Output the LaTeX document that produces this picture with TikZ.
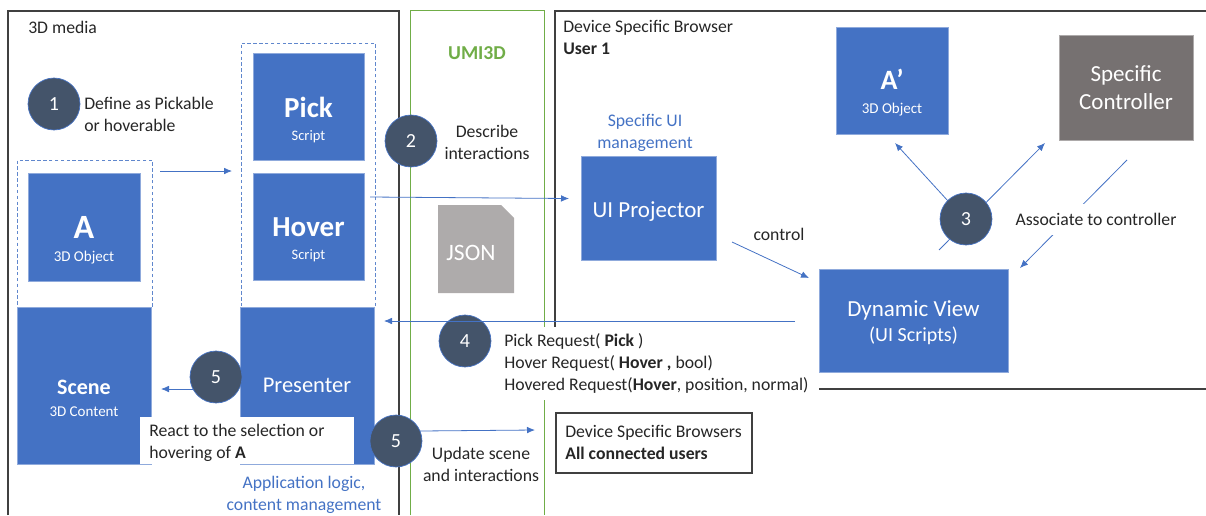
\documentclass[tikz,border=0pt]{standalone}
\usepackage{fontspec}
\setmainfont{Carlito}
\usetikzlibrary{arrows.meta,shapes.misc,shapes.geometric}
\definecolor{cblue}{HTML}{4472C4}
\definecolor{cdark}{HTML}{44546A}
\definecolor{cgreen}{HTML}{70AD47}
\definecolor{cgray}{HTML}{AEABAB}
\definecolor{cctrl}{HTML}{767171}
\definecolor{cframe}{HTML}{404040}
\newdimen\px \px=0.75pt
\newcommand{\fs}[1]{\fontsize{#1\px}{1.2\dimexpr#1\px\relax}\selectfont}
\tikzset{
  box/.style={fill=cblue,draw=cblue!60!white,line width=0.4pt,text=white,align=center,inner sep=0pt},
  badge/.style={circle,fill=cdark,draw=cblue,line width=0.5pt,text=white,minimum size=52\px,inner sep=0pt,font=\fontsize{20\px}{22\px}\selectfont},
  txt/.style={text=black!85,inner sep=0pt,align=left,font=\fontsize{17.7\px}{22\px}\selectfont},
  ctxt/.style={txt,align=center},
  bluetxt/.style={ctxt,text=cblue},
  frame/.style={draw=cframe,line width=0.9pt},
  gframe/.style={draw=cgreen,line width=0.6pt},
  dashbox/.style={draw=cblue!85!white,line width=0.6pt,dash pattern=on 2.6pt off 1.8pt,fill=white},
  conn/.style={draw=cblue,line width=0.6pt,-{Latex[length=6pt,width=5pt]}},
}
\begin{document}
\begin{tikzpicture}[x=0.75pt,y=-0.75pt]
\useasboundingbox (0,0) rectangle (1206,515);
% frames
\draw[frame] (8,515) -- (8,11) -- (399,11) -- (399,515);
\draw[gframe] (410,515) -- (410,10) -- (544,10) -- (544,515);
\draw[frame] (555,327) -- (555,11) -- (1206,11);
\draw[frame] (819,389) -- (1206,389);
% free connector ends
\coordinate (aout) at (160,171);
\coordinate (pin) at (232,171);
\coordinate (hout) at (370,197);
\coordinate (uin) at (569,198.5);
\coordinate (uout) at (732,242);
\coordinate (dinl) at (809,278);
\coordinate (dout) at (795,321);
\coordinate (pres) at (384,321);
\coordinate (sc5) at (200,389);
\coordinate (scin) at (161,389);
\coordinate (up5) at (420,431);
\coordinate (upin) at (535,430);
\coordinate (t3a) at (948,201);
\coordinate (apin) at (895,143);
\coordinate (t3b) at (939,250);
\coordinate (ctin) at (1045,143);
\coordinate (ctout) at (1127,160);
\coordinate (dinr) at (1020,268);
% dashed groups
\node[dashbox,minimum width=134.5\px,minimum height=147\px] (dashA) at (85,233.5) {};
\node[dashbox,minimum width=134\px,minimum height=264\px] (dashP) at (308,175) {};
% blocks
\node[box,minimum width=112\px,minimum height=108\px] (A) at (84,227) {\rule{0pt}{48\px}{\fs{34}\bfseries A}\\[5pt]{\fs{15}3D Object}};
\node[box,minimum width=111\px,minimum height=107\px] (pick) at (308.5,106.5) {\rule{0pt}{47\px}{\fs{29}\bfseries Pick}\\[5.75pt]{\fs{14.5}Script}};
\node[box,minimum width=111\px,minimum height=107\px] (hover) at (308.5,226.5) {\rule{0pt}{45\px}{\fs{29}\bfseries Hover}\\[5.75pt]{\fs{14.5}Script}};
\node[box,minimum width=134\px,minimum height=157\px] (scene) at (84,385.5) {\rule{0pt}{40\px}{\fs{22}\bfseries Scene}\\[4pt]{\fs{15}3D Content}};
\node[box,minimum width=134\px,minimum height=157\px] (presenter) at (307,385.5) {{\fs{22.5}Presenter}};
\node[box,minimum width=135\px,minimum height=104\px] (ui) at (648.5,208) {\rule{0pt}{23\px}{\fs{23}UI Projector}};
\node[box,minimum width=112\px,minimum height=107\px] (Ap) at (892,80.5) {\rule{0pt}{45\px}{\fs{28}\bfseries A’}\\[5.75pt]{\fs{15}3D Object}};
\node[box,fill=cctrl,draw=cctrl!60!white,minimum width=134\px,minimum height=105\px] (ctrl) at (1126,87.5) {\fs{23}Specific\\[5pt]\fs{23}Controller};
\node[box,minimum width=189\px,minimum height=103\px] (dyn) at (913.5,320.5) {\rule{0pt}{21\px}{\fs{23}Dynamic View}\\[4pt]{\fs{20}(UI Scripts)}};
\fill[cgray] (438,205) -- (501,205) -- (514,218) -- (514,293) -- (438,293) -- cycle;
\node[text=white,inner sep=0pt,font=\fontsize{23.5\px}{26\px}\selectfont] (json) at (471,253) {JSON};
% arrows
\draw[conn] (aout) -- (pin);
\draw[conn] (hout) -- (uin);
\draw[conn] (uout) -- (dinl);
\draw[conn] (t3a) -- (apin);
\draw[conn] (t3b) -- (ctin);
\draw[conn] (ctout) -- (dinr);
\draw[conn] (sc5) -- (scin);
\draw[conn] (up5) -- (upin);
% texts with white backgrounds
\node[fill=white,minimum width=214\px,minimum height=47\px,inner sep=0pt] (reactbg) at (247,440.5) {};
\node[txt,anchor=west] (react) at (149,443) {React to the selection or\\hovering of \textbf{A}};
\node[fill=white,minimum width=324\px,minimum height=73\px,inner sep=0pt] (reqbg) at (657,363.5) {};
\node[txt,anchor=west] (req) at (504,363) {Pick Request( \textbf{Pick} )\\Hover Request( \textbf{Hover ,} bool)\\Hovered Request(\textbf{Hover}, position, normal)};
\node[fill=white,minimum width=165\px,minimum height=31\px,inner sep=0pt] (assoc) at (1096,219) {};
\node[txt] (assoctxt) at (1096,219) {Associate to controller};
% badges
\node[badge] (b1) at (54,104) {1};
\node[badge] (b2) at (411,141) {2};
\node[badge] (b3) at (966,219) {3};
\node[badge] (b4) at (465,341) {4};
\node[badge] (b5a) at (216,377) {5};
\node[badge] (b5b) at (396,441) {5};
\draw[conn] (dout) -- (pres);
% plain texts
\node[txt,anchor=west] (media) at (28,27) {3D media};
\node[txt,anchor=west] (define) at (84,114) {Define as Pickable\\or hoverable};
\node[ctxt,text=cgreen,font=\fontsize{19.7\px}{22\px}\selectfont\bfseries] (umi) at (477,53) {UMI3D};
\node[ctxt] (describe) at (487,142) {Describe\\interactions};
\node[txt,anchor=west] (browser) at (563,37) {Device Specific Browser\\\textbf{User 1}};
\node[bluetxt] (spec) at (645,132.5) {Specific UI\\management};
\node[txt] (control) at (779,234) {control};
\node[ctxt] (update) at (481,464) {Update scene\\and interactions};
\node[bluetxt] (app) at (304,494.5) {Application logic,\\content management};
\node[draw=cframe,line width=0.8pt,fill=white,minimum width=196\px,minimum height=60\px,inner sep=0pt] (allbox) at (654,443) {};
\node[txt,anchor=west] (all) at (565,442.5) {Device Specific Browsers\\\textbf{All connected users}};
\end{tikzpicture}
\end{document}
